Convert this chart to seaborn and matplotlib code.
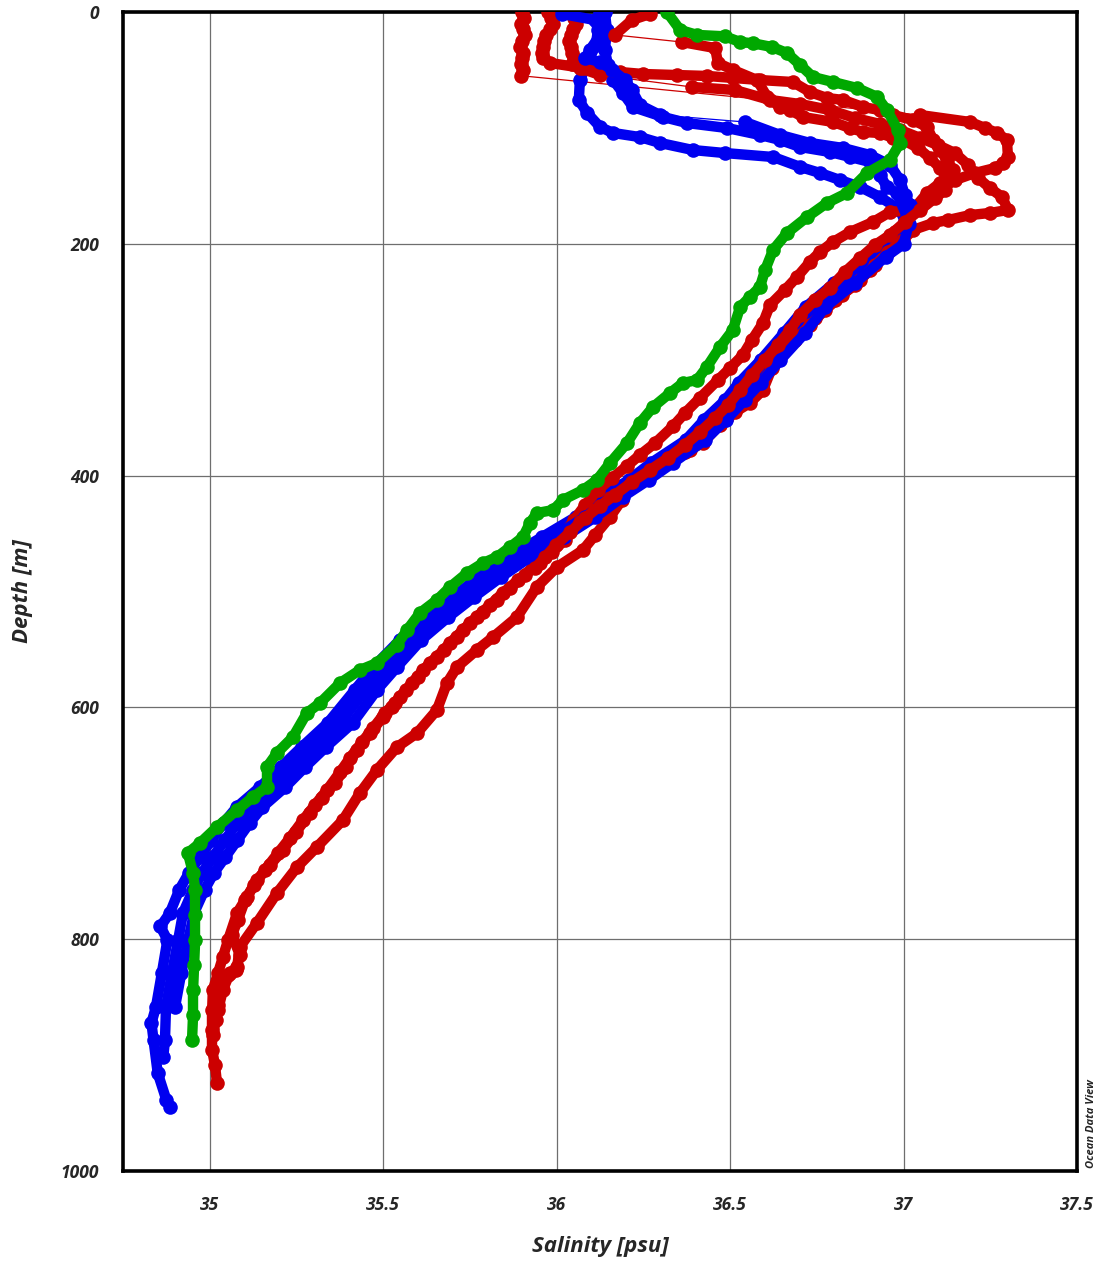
import numpy as np
import pandas as pd
import matplotlib
matplotlib.use("Agg")
import matplotlib.pyplot as plt
import seaborn as sns
from matplotlib.collections import LineCollection

# ---------------- data (salinity [psu], depth [m]) ----------------
x_major = [35.0, 35.5, 36.0, 36.5, 37.0, 37.5]
x_labels = ["35", "35.5", "36", "36.5", "37", "37.5"]
x_minor = [34.75, 35.25, 35.75, 36.25, 36.75, 37.25]
y_major = [0, 200, 400, 600, 800, 1000]
y_labels = ["0", "200", "400", "600", "800", "1000"]
y_minor = [100, 300, 500, 700, 900]

redA_D = [0, 5, 10, 15, 20, 25, 30, 35, 40, 45, 50, 55,
          88.9, 94.9, 100.1, 104.4, 110.4, 125.1, 130.3, 134.6, 138.9, 145.0, 153.6, 162.2, 172.6, 181.2,
          189.8, 205.3, 222.6, 235.5, 248.5, 264.0, 280.4, 300.3, 326.1, 337.4, 349.4, 371.9, 379.6, 386.5,
          403.8, 421.1, 435.7, 451.3, 464.2, 478.9, 496.1, 522.0, 539.3, 550.5, 565.1, 579.0, 602.2, 622.1,
          634.2, 654.0, 673.9, 697.2, 720.4, 737.7, 760.1, 786.0, 806.7, 824.0, 829.2, 843.8, 861.1]
redA_S = [35.900, 35.905, 35.898, 35.902, 35.908, 35.900, 35.895, 35.903, 35.900, 35.897, 35.902, 35.898,
          37.048, 37.192, 37.235, 37.270, 37.298, 37.301, 37.287, 37.264, 37.206, 37.148, 37.105, 37.062, 37.024, 37.004,
          36.975, 36.932, 36.903, 36.860, 36.802, 36.745, 36.687, 36.630, 36.595, 36.557, 36.491, 36.422, 36.370, 36.327,
          36.232, 36.188, 36.154, 36.111, 36.076, 36.001, 35.943, 35.886, 35.817, 35.770, 35.713, 35.684, 35.655, 35.598,
          35.540, 35.482, 35.433, 35.384, 35.309, 35.252, 35.194, 35.136, 35.087, 35.079, 35.058, 35.038, 35.024]

redB_D = [0, 5, 10, 15, 20, 25, 30, 35, 40, 44.0, 48.3, 51.8, 53.5, 54.4, 55.2, 56.9, 58.7, 60.4, 69.0, 74.2,
          75.9, 82.0, 84.6, 88.9, 93.2, 99.2, 110.4, 119.1, 127.7, 136.3, 147.5, 156.2, 170.8, 172.6, 181.2,
          189.8, 198.4, 207.1, 215.7, 228.6, 239.9, 252.8, 268.3, 283.0, 295.9, 307.2, 317.5, 333.0, 346.0,
          357.2, 371.9, 382.2, 391.7, 402.1, 412.4, 425.4, 438.3, 458.2, 468.5, 478.9, 490.1, 501.3, 511.6,
          522.0, 533.2, 544.4, 556.5, 567.7, 579.0, 591.0, 599.7, 608.3, 622.1, 636.8, 651.4, 665.2, 678.2,
          691.1, 707.5, 723.0, 736.0, 748.9, 763.6, 777.4, 800.7, 815.4, 829.2, 843.8, 861.1, 878.3, 895.6,
          908.5, 924.1]
redB_S = [35.975, 35.985, 35.990, 35.980, 35.970, 35.965, 35.960, 35.958, 35.962, 35.981, 36.076, 36.183, 36.249,
          36.347, 36.434, 36.508, 36.586, 36.681, 36.730, 36.779,
          36.826, 36.883, 36.932, 36.970, 37.027, 37.068, 37.085, 37.105, 37.125, 37.143, 37.105, 37.068, 37.027,
          36.961, 36.912,
          36.846, 36.797, 36.759, 36.730, 36.693, 36.658, 36.615, 36.595, 36.563, 36.537, 36.500, 36.465, 36.413, 36.370,
          36.336, 36.284, 36.240, 36.203, 36.160, 36.119, 36.082, 36.050, 36.001, 35.967, 35.932, 35.889, 35.845, 35.808,
          35.770, 35.730, 35.693, 35.655, 35.615, 35.583, 35.548, 35.525, 35.500, 35.462, 35.425, 35.393, 35.361, 35.324,
          35.289, 35.249, 35.211, 35.174, 35.136, 35.107, 35.079, 35.053, 35.038, 35.024, 35.009, 35.007, 35.007, 35.007,
          35.015, 35.021]

redC_D = [0, 5, 10, 15, 20, 25, 30, 35, 40, 45, 48.3, 54.4, 64.7, 67.3, 75.9, 79.4, 84.6, 91.5, 96.6, 101.8,
          108.7, 114.8, 121.7, 132.0, 143.2, 151.9, 159.6, 170.8, 173.4, 175.2, 179.5, 182.1, 188.1, 196.7,
          207.1, 218.3, 231.2, 244.2, 257.1, 270.1, 283.0, 293.4, 307.2, 321.8, 334.8, 345.1, 356.3, 369.3,
          377.9, 388.3, 396.9, 408.1, 419.3, 429.7, 440.0, 455.6, 465.9, 475.4, 485.8, 497.0, 507.3, 517.7,
          527.2, 539.3, 550.5, 561.7, 573.8, 585.0, 596.2, 604.8, 617.8, 629.9, 643.7, 655.7, 671.3, 684.2,
          697.2, 712.7, 725.6, 740.3, 753.2, 766.2, 783.4, 796.4, 813.6, 826.6, 830.9, 843.8, 856.8, 869.7, 882.7]
redC_S = [36.040, 36.050, 36.055, 36.048, 36.042, 36.035, 36.040, 36.045, 36.050, 36.044, 36.067, 36.125, 36.390,
          36.514, 36.615, 36.702, 36.788, 36.860, 36.932, 36.990,
          37.048, 37.099, 37.148, 37.186, 37.215, 37.249, 37.284, 37.301, 37.249, 37.192, 37.128, 37.085, 37.027, 36.999,
          36.955, 36.918, 36.875, 36.823, 36.774, 36.730, 36.687, 36.650, 36.621, 36.586, 36.552, 36.514, 36.471, 36.422,
          36.385, 36.327, 36.269, 36.212, 36.154, 36.111, 36.067, 36.024, 35.987, 35.952, 35.909, 35.866, 35.828, 35.788,
          35.750, 35.713, 35.675, 35.635, 35.600, 35.566, 35.534, 35.505, 35.471, 35.439, 35.404, 35.376, 35.338, 35.303,
          35.269, 35.231, 35.197, 35.159, 35.128, 35.102, 35.081, 35.064, 35.087, 35.076, 35.053, 35.030, 35.024, 35.018,
          35.009]

redD_D = [1.7, 6.9, 19.8, 25.9, 31.1, 44.0, 50.0, 58.7, 73.3, 82.0, 84.6, 90.6, 94.9, 100.1, 103.5, 104.4, 108.7,
          110.4, 117.3, 126.0, 134.6, 143.2, 153.6, 160.5, 170.8, 181.2, 192.4, 201.0, 212.3, 224.3, 238.1, 248.5,
          261.4, 274.4, 287.3, 300.3, 313.2, 326.1, 339.1, 350.3, 362.4, 373.6, 384.8, 395.2, 405.5, 416.7, 426.2,
          436.6, 448.7, 459.9, 470.2, 479.7]
redD_S = [36.269, 36.217, 36.168, 36.361, 36.457, 36.465, 36.508, 36.578, 36.607, 36.644, 36.673, 36.710, 36.797,
          36.846, 36.883, 36.932, 36.970, 36.999, 37.042, 37.076, 37.105, 37.125, 37.120, 37.091, 37.048, 37.004,
          36.961, 36.918, 36.875, 36.831, 36.788, 36.745, 36.702, 36.673, 36.638, 36.601, 36.563, 36.529, 36.494,
          36.457, 36.413, 36.370, 36.321, 36.269, 36.217, 36.168, 36.125, 36.082, 36.039, 35.998, 35.967, 35.938]

blue1_D = [0, 15.5, 28.5, 43.1, 58.7, 75.9, 87.1, 99.2, 104.4, 107.9, 113.0, 119.1, 121.7, 125.1, 133.7, 138.9,
           145.0, 151.0, 159.6, 170.8, 181.2,
           200.2, 211.4, 233.8, 254.5, 277.0, 300.3, 320.1, 334.8, 352.0, 369.3, 389.1, 403.8, 418.5, 435.7, 453.0,
           470.2, 487.5, 504.7, 522.0, 541.8, 565.1, 585.0, 613.5, 634.2, 651.4, 668.7, 686.0, 699.7, 714.4, 729.1,
           742.9, 757.5, 777.4, 789.0, 800.7, 829.2, 858.5, 872.3, 887.0, 915.4, 938.7, 944.7]
blue1_S = [36.125, 36.119, 36.113, 36.090, 36.067, 36.064, 36.088, 36.125, 36.163, 36.240, 36.298, 36.393, 36.485,
           36.624, 36.702, 36.759, 36.817, 36.875, 36.932, 36.990, 37.004,
           36.942, 36.890, 36.800, 36.718, 36.655, 36.588, 36.525, 36.486, 36.425, 36.372, 36.272, 36.208, 36.128,
           36.055, 35.958, 35.862, 35.775, 35.702, 35.622, 35.548, 35.472, 35.418, 35.340, 35.265, 35.205, 35.145,
           35.078, 35.040, 35.005, 34.972, 34.940, 34.912, 34.885, 34.858, 34.878, 34.862, 34.845, 34.832, 34.838,
           34.850, 34.875, 34.885]

blue2_D = [0, 15.5, 32.8, 45.7, 58.7, 69.9, 82.0, 90.6, 95.8, 100.1, 106.1, 110.4, 116.5, 120.8, 125.1, 129.4,
           140.6, 151.0, 156.2, 176.9,
           200.2, 211.4, 233.8, 254.5, 277.0, 300.3, 320.1, 334.8, 352.0, 369.3, 389.1, 403.8, 418.5, 435.7, 453.0,
           470.2, 487.5, 504.7, 522.0, 541.8, 565.1, 585.0, 613.5, 634.2, 651.4, 668.7, 686.0, 699.7, 714.4, 729.1,
           742.9, 757.5, 777.4, 800.7, 829.2, 858.5, 887.0, 901.6]
blue2_S = [36.139, 36.145, 36.139, 36.148, 36.163, 36.191, 36.220, 36.307, 36.376, 36.491, 36.586, 36.644, 36.702,
           36.788, 36.846, 36.903, 36.932, 36.952, 36.981, 37.010,
           36.970, 36.918, 36.831, 36.745, 36.687, 36.615, 36.557, 36.514, 36.457, 36.399, 36.304, 36.235, 36.160,
           36.082, 35.990, 35.892, 35.808, 35.730, 35.655, 35.577, 35.505, 35.448, 35.376, 35.298, 35.240, 35.182,
           35.116, 35.079, 35.044, 35.009, 34.978, 34.952, 34.923, 34.909, 34.891, 34.874, 34.871, 34.866]

blue3_D = [1.7, 6.9, 19.8, 32.8, 39.7, 43.1, 50.0, 58.7, 67.3, 80.2, 88.9, 94.9, 106.1, 113.0, 117.3, 123.4, 132.0,
           145.0, 157.9, 166.5, 183.0,
           200.2, 211.4, 233.8, 254.5, 277.0, 300.3, 320.1, 334.8, 352.0, 369.3, 389.1, 403.8, 418.5, 435.7, 453.0,
           470.2, 487.5, 504.7, 522.0, 541.8, 565.1, 585.0, 613.5, 634.2, 651.4, 668.7, 686.0, 699.7, 714.4, 729.1,
           742.9, 757.5, 777.4, 800.7, 829.2, 858.5]
blue3_S = [36.016, 36.110, 36.125, 36.096, 36.082, 36.125, 36.160, 36.197, 36.217, 36.240, 36.298, 36.543, 36.644,
           36.730, 36.825, 36.903, 36.961, 36.990, 37.004, 37.019, 37.015,
           37.000, 36.948, 36.860, 36.775, 36.716, 36.645, 36.588, 36.542, 36.488, 36.428, 36.335, 36.265, 36.190,
           36.112, 36.022, 35.924, 35.840, 35.762, 35.688, 35.610, 35.540, 35.482, 35.412, 35.335, 35.275, 35.218,
           35.152, 35.115, 35.080, 35.045, 35.012, 34.985, 34.955, 34.938, 34.918, 34.900]

green_D = [0, 15.5, 19.8, 21.0, 25.9, 27.0, 30.2, 35.4, 45.7, 56.1, 60.4, 65.6, 73.3, 84.6, 101.8, 113.0, 127.7,
           138.9, 156.2, 164.8, 176.9, 190.7, 205.3, 222.6, 237.3, 245.9, 254.5, 274.4, 289.0, 306.3, 317.5, 320.1,
           328.7, 340.8, 354.6, 371.9, 389.1, 403.8, 412.4, 421.0, 429.7, 432.3, 440.9, 453.0, 461.6, 470.2, 475.4,
           484.0, 496.1, 507.3, 518.5, 533.2, 546.0, 561.7, 567.7, 578.9, 596.2, 604.8, 625.5, 639.3, 651.4, 668.7,
           677.3, 688.5, 703.2, 717.0, 725.6, 742.9, 757.5, 779.0, 800.7, 822.0, 843.8, 865.0, 887.0]
green_S = [36.318, 36.356, 36.405, 36.485, 36.529, 36.566, 36.621, 36.664, 36.702, 36.739, 36.797, 36.866, 36.924,
           36.952, 36.984, 36.990, 36.961, 36.895, 36.837, 36.779, 36.722, 36.664, 36.624, 36.601, 36.586, 36.557,
           36.529, 36.508, 36.471, 36.433, 36.405, 36.364, 36.327, 36.278, 36.240, 36.203, 36.154, 36.116, 36.076,
           36.018, 35.990, 35.943, 35.923, 35.903, 35.866, 35.828, 35.788, 35.742, 35.693, 35.655, 35.606, 35.569,
           35.540, 35.482, 35.433, 35.376, 35.318, 35.280, 35.240, 35.194, 35.165, 35.165, 35.125, 35.079, 35.021,
           34.972, 34.937, 34.952, 34.958, 34.958, 34.958, 34.955, 34.952, 34.952, 34.949]

RED, BLUE, GREEN = "#cc0000", "#0000f0", "#00a800"
profiles = [
    (redA_S, redA_D, RED), (blue1_S, blue1_D, BLUE), (redB_S, redB_D, RED),
    (blue2_S, blue2_D, BLUE), (redC_S, redC_D, RED), (blue3_S, blue3_D, BLUE),
    (redD_S, redD_D, RED), (green_S, green_D, GREEN),
]

# ---------------- figure ----------------
sns.set_style("white")
plt.rcParams["font.family"] = ["Open Sans", "DejaVu Sans"]

W, H = 1103, 1264
fig = plt.figure(figsize=(W / 100, H / 100), dpi=100)
ax = fig.add_axes([123 / W, 1 - 1171 / H, (1077 - 123) / W, (1171 - 12) / H])
ax.set_xlim(34.75, 37.5)
ax.set_ylim(1000, 0)

# consecutive samples that lie close together are drawn as a continuous band
seg_sets = []
for S, D, c in profiles:
    pts = ax.transData.transform(np.column_stack([S, D]))
    lens = np.hypot(*np.diff(pts, axis=0).T)
    segs = [[(S[i], D[i]), (S[i + 1], D[i + 1])] for i in range(len(S) - 1) if lens[i] < 60]
    seg_sets.append(segs)

for z, ((S, D, c), segs) in enumerate(zip(profiles, seg_sets)):
    ax.add_collection(LineCollection(segs, colors=c, linewidths=7.5, capstyle="round",
                                     joinstyle="round", zorder=3 + z))
    df = pd.DataFrame({"S": S, "D": D})
    sns.lineplot(data=df, x="S", y="D", sort=False, estimator=None, color=c, lw=0.9,
                 marker="o", markersize=10.5, markeredgewidth=0, ax=ax, zorder=3 + z)

ax.set_xlim(34.75, 37.5)
ax.set_ylim(1000, 0)

ax.set_xticks(x_major)
ax.set_xticklabels(x_labels, fontsize=12.5, fontweight="bold", fontstyle="italic")
ax.set_xticks(x_minor, minor=True)
ax.set_yticks(y_major)
ax.set_yticklabels(y_labels, fontsize=12.5, fontweight="bold", fontstyle="italic")
ax.set_yticks(y_minor, minor=True)
ax.tick_params(which="both", direction="out", length=8, width=1, color="#808080")
ax.tick_params(axis="x", which="major", pad=10)
ax.tick_params(axis="y", which="major", pad=9)

ax.grid(True, which="major", color="#6e6e6e", lw=0.9)
ax.set_axisbelow(True)
for sp in ax.spines.values():
    sp.set_visible(True)
    sp.set_color("black")
    sp.set_linewidth(2.6)

ax.set_xlabel("Salinity [psu]", fontsize=16, fontweight="bold", fontstyle="italic")
ax.set_ylabel("Depth [m]", fontsize=16, fontweight="bold", fontstyle="italic")
ax.xaxis.set_label_coords(0.5, -0.056)
ax.yaxis.set_label_coords(-0.094, 0.5)

fig.text(1092 / W, 1 - 1168 / H, "Ocean Data View", rotation=90, ha="center", va="bottom",
         fontsize=8, fontweight="bold", fontstyle="italic")

fig.savefig("out.png", dpi=100)
